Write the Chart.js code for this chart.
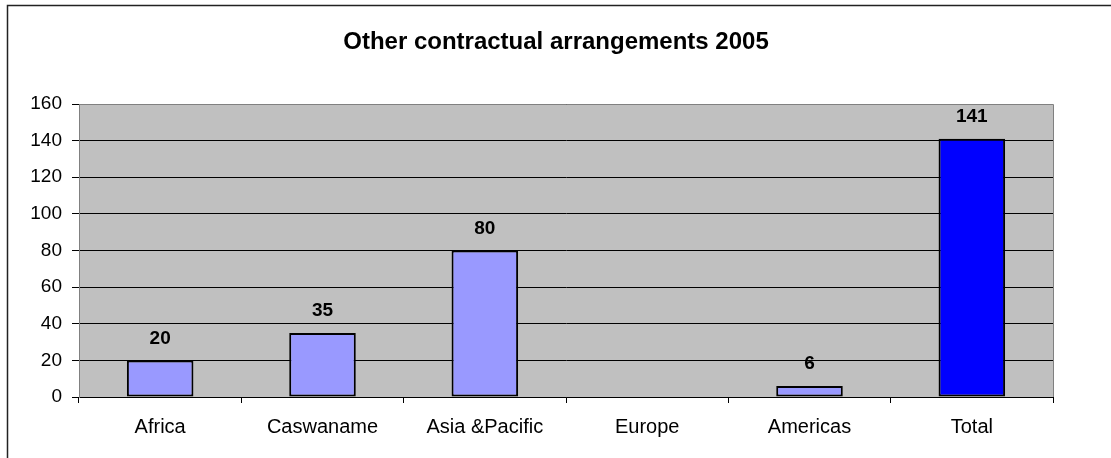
<!DOCTYPE html>
<html>
<head>
<meta charset="utf-8">
<script src="https://cdn.jsdelivr.net/npm/chart.js@4/dist/chart.umd.min.js"></script>
<style>
  html, body { margin: 0; padding: 0; background: #fff; }
  #wrap { width: 1111px; height: 458px; position: relative; }
</style>
</head>
<body>
<div id="wrap"><canvas id="chart"></canvas></div>
<script>
const regions = ['Africa', 'Caswaname', 'Asia &Pacific', 'Europe', 'Americas', 'Total'];
const arrangements = [20, 35, 80, null, 6, 141];
const barColors = ['#9999FF', '#9999FF', '#9999FF', '#9999FF', '#9999FF', '#0000FF'];
const yTicks = [0, 20, 40, 60, 80, 100, 120, 140, 160];
const chartTitle = 'Other contractual arrangements 2005';

const fontFamily = '"Liberation Sans", Arial, sans-serif';

// grey plot background, outer frame and the title
const backdrop = {
  id: 'backdrop',
  beforeDraw(chart) {
    const { ctx, chartArea } = chart;
    ctx.save();
    ctx.fillStyle = '#C0C0C0';
    ctx.fillRect(chartArea.left, chartArea.top, chartArea.right - chartArea.left, chartArea.bottom - chartArea.top);
    ctx.strokeStyle = '#222';
    ctx.lineWidth = 1.5;
    ctx.beginPath();
    ctx.moveTo(7.5, 458);
    ctx.lineTo(7.5, 5.5);
    ctx.lineTo(1111, 5.5);
    ctx.stroke();
    ctx.font = 'bold 24px ' + fontFamily;
    ctx.fillStyle = '#000';
    ctx.textAlign = 'center';
    ctx.textBaseline = 'middle';
    ctx.fillText(chartTitle, 556, 42);
    ctx.restore();
  },
  afterDraw(chart) {
    const { ctx, chartArea } = chart;
    ctx.save();
    ctx.strokeStyle = '#808080';
    ctx.lineWidth = 1;
    ctx.beginPath();
    ctx.moveTo(chartArea.left, chartArea.top + 0.5);
    ctx.lineTo(chartArea.right + 0.5, chartArea.top + 0.5);
    ctx.lineTo(chartArea.right + 0.5, chartArea.bottom);
    ctx.stroke();
    ctx.restore();
  }
};

// bold value above every bar
const valueLabels = {
  id: 'valueLabels',
  afterDatasetsDraw(chart) {
    const { ctx } = chart;
    const meta = chart.getDatasetMeta(0);
    ctx.save();
    ctx.font = 'bold 19px ' + fontFamily;
    ctx.fillStyle = '#000';
    ctx.textAlign = 'center';
    ctx.textBaseline = 'middle';
    meta.data.forEach((bar, i) => {
      const v = arrangements[i];
      if (v === null) return;
      ctx.fillText(String(v), bar.x, bar.y - 22);
    });
    ctx.restore();
  }
};

new Chart(document.getElementById('chart'), {
  type: 'bar',
  data: {
    labels: regions,
    datasets: [{
      data: arrangements,
      backgroundColor: barColors,
      borderColor: '#000',
      borderWidth: 2,
      borderSkipped: false,
      categoryPercentage: 1,
      barPercentage: 0.41
    }]
  },
  options: {
    responsive: true,
    maintainAspectRatio: false,
    animation: false,
    layout: { padding: { left: 0, right: 58, top: 104, bottom: 0 } },
    plugins: {
      legend: { display: false },
      tooltip: { enabled: false },
      title: { display: false }
    },
    scales: {
      x: {
        grid: {
          offset: true,
          drawOnChartArea: false,
          drawTicks: true,
          tickLength: 6,
          color: '#000'
        },
        border: { color: '#000', width: 1 },
        ticks: {
          color: '#000',
          padding: 12,
          font: { family: fontFamily, size: 20 }
        },
        afterFit(scale) { scale.height = 61; }
      },
      y: {
        min: 0,
        max: 160,
        afterBuildTicks(scale) { scale.ticks = yTicks.map(v => ({ value: v })); },
        grid: { color: '#000', tickLength: 7, tickColor: '#000' },
        border: { color: '#808080', width: 1 },
        ticks: {
          color: '#000',
          padding: 10,
          font: { family: fontFamily, size: 19 }
        },
        afterFit(scale) { scale.width = 79; }
      }
    }
  },
  plugins: [backdrop, valueLabels]
});
</script>
</body>
</html>
